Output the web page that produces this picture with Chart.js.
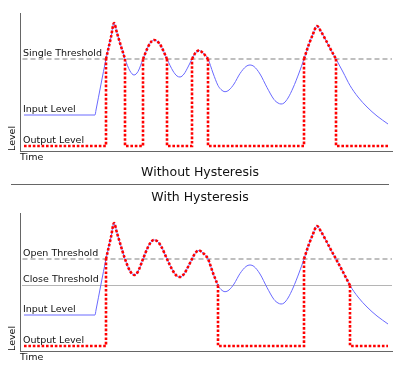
<!DOCTYPE html>
<html>
<head>
<meta charset="utf-8">
<script src="https://cdn.jsdelivr.net/npm/chart.js@4.4.0/dist/chart.umd.min.js"></script>
<style>
  body { margin: 0; background: #fff; width: 400px; height: 375px; position: relative; overflow: hidden; font-family: "DejaVu Sans", sans-serif; }
  canvas { position: absolute; left: 0; }
  #top { top: 0; }
  #bottom { top: 200px; }
  .caption { position: absolute; left: 0; width: 400px; text-align: center; font-size: 12.5px; line-height: 15px; color: #111; }
  #rule { position: absolute; left: 11px; width: 378px; top: 184px; height: 0; border-top: 1px solid #666; }
</style>
</head>
<body>
<canvas id="top" width="400" height="165"></canvas>
<div class="caption" style="top:164px">Without Hysteresis</div>
<div id="rule"></div>
<div class="caption" style="top:189px">With Hysteresis</div>
<canvas id="bottom" width="400" height="165"></canvas>
<script>
// input signal (time, level)
const time = [4, 75, 76, 86, 91, 94, 97, 100, 105, 110, 114, 118, 123, 128, 131, 134, 137, 141, 147,
  153, 157, 160, 164, 168, 172, 175, 179, 183, 188, 193, 198, 201, 205, 209, 214, 220, 226, 230,
  234, 240, 247, 254, 258, 261, 264, 268, 273, 279, 284, 289, 293, 297, 301, 306, 311, 316, 323,
  330, 338, 347, 357, 368];
const inputLevel = [36, 36, 41, 92, 114, 128, 118, 108, 92, 80, 76, 79.5, 92, 104, 109, 111, 110, 105, 92,
  80, 75, 74, 77, 84, 92, 97.5, 100.5, 98, 92, 78, 65.5, 61.5, 59.3, 61, 67, 77.5, 84.5, 86,
  84.5, 77, 63.5, 51.5, 48, 47, 48, 53, 63, 78, 92, 107, 117, 125, 119.5, 110.5, 101, 92, 79,
  65.5, 54, 44, 35, 27];

const outputLow = 5;
const inputLow = 36;
const singleThreshold = 92;
const openThreshold = 92;
const closeThreshold = 65.5;

// times where the output switches on / off
const singleOn = [86, 123, 172, 284];
const singleOff = [105, 147, 188, 316];
const hystOn = [86, 284];
const hystOff = [198, 330];

const timeMax = 372;
const levelMax = 138;

Chart.defaults.font.family = "'DejaVu Sans', sans-serif";

function levelAt(t) {
  return inputLevel[time.indexOf(t)];
}

// output follows the input while switched on
function outputOnPoints(on, off) {
  const pts = [];
  on.forEach((t0, i) => {
    time.forEach((t, j) => {
      if (t >= t0 && t <= off[i]) pts.push({ x: t, y: inputLevel[j] });
    });
    pts.push({ x: off[i] + 0.5, y: null });
  });
  return pts;
}

// low level and the vertical jumps
function outputOffPoints(on, off) {
  const pts = [{ x: time[0], y: outputLow }];
  on.forEach((t0, i) => {
    pts.push({ x: t0, y: outputLow }, { x: t0, y: levelAt(t0) }, { x: t0 + 0.5, y: null });
    pts.push({ x: off[i], y: levelAt(off[i]) }, { x: off[i], y: outputLow });
  });
  pts.push({ x: time[time.length - 1], y: outputLow });
  return pts;
}

const labelPlugin = {
  id: "levelLabels",
  afterDraw(chart, args, opts) {
    const { ctx, chartArea, scales } = chart;
    ctx.save();
    ctx.font = "9.5px 'DejaVu Sans'";
    ctx.fillStyle = "#111";
    ctx.textBaseline = "alphabetic";
    opts.items.forEach(([text, level]) => {
      ctx.fillText(text, chartArea.left + 3, scales.y.getPixelForValue(level) - 3.5);
    });
    ctx.restore();
  },
};

function lineSet(data, style) {
  return Object.assign({ data: data, pointRadius: 0, fill: false, borderWidth: 1 }, style);
}

function makeChart(id, on, off, thresholds, labels) {
  const inputPts = time.map((t, i) => ({ x: t, y: inputLevel[i] }));
  const red = { borderColor: "#ff0000", borderWidth: 2.6, borderDash: [2.6, 1.8] };
  const datasets = [
    lineSet(outputOffPoints(on, off), red),
    lineSet(outputOnPoints(on, off), Object.assign({ cubicInterpolationMode: "monotone" }, red)),
    lineSet(inputPts, { borderColor: "#6a6aff", cubicInterpolationMode: "monotone" }),
  ];
  thresholds.forEach(([level, dash, color, width]) => {
    datasets.push(lineSet([{ x: 2.5, y: level }, { x: timeMax, y: level }],
      { borderColor: color, borderDash: dash, borderWidth: width }));
  });

  return new Chart(document.getElementById(id), {
    type: "line",
    data: { datasets: datasets },
    plugins: [labelPlugin],
    options: {
      responsive: false,
      animation: false,
      devicePixelRatio: 1,
      events: [],
      layout: { padding: { left: 2.6, top: 13, right: 8, bottom: 1.6 } },
      plugins: {
        legend: { display: false },
        tooltip: { enabled: false },
        levelLabels: { items: labels },
      },
      scales: {
        x: {
          type: "linear", min: 0, max: timeMax,
          ticks: { display: false },
          grid: { display: false, drawTicks: false },
          border: { color: "#666", width: 1 },
          title: { display: true, text: "Time", align: "start", color: "#111",
            font: { size: 9.5, lineHeight: 1.2 }, padding: { top: 1, bottom: 0 } },
        },
        y: {
          min: 0, max: levelMax,
          ticks: { display: false },
          grid: { display: false, drawTicks: false },
          border: { color: "#666", width: 1 },
          title: { display: true, text: "Level", align: "start", color: "#111",
            font: { size: 9.5, lineHeight: 1.2 }, padding: { top: 4, bottom: 2 } },
        },
      },
    },
  });
}

makeChart("top", singleOn, singleOff, [[singleThreshold, [5, 3], "#808080", 1.2]],
  [["Single Threshold", singleThreshold], ["Input Level", inputLow], ["Output Level", outputLow]]);

makeChart("bottom", hystOn, hystOff,
  [[openThreshold, [5, 3], "#808080", 1.2], [closeThreshold, [1, 1], "#6a6a6a", 1]],
  [["Open Threshold", openThreshold], ["Close Threshold", closeThreshold],
   ["Input Level", inputLow], ["Output Level", outputLow]]);
</script>
</body>
</html>
